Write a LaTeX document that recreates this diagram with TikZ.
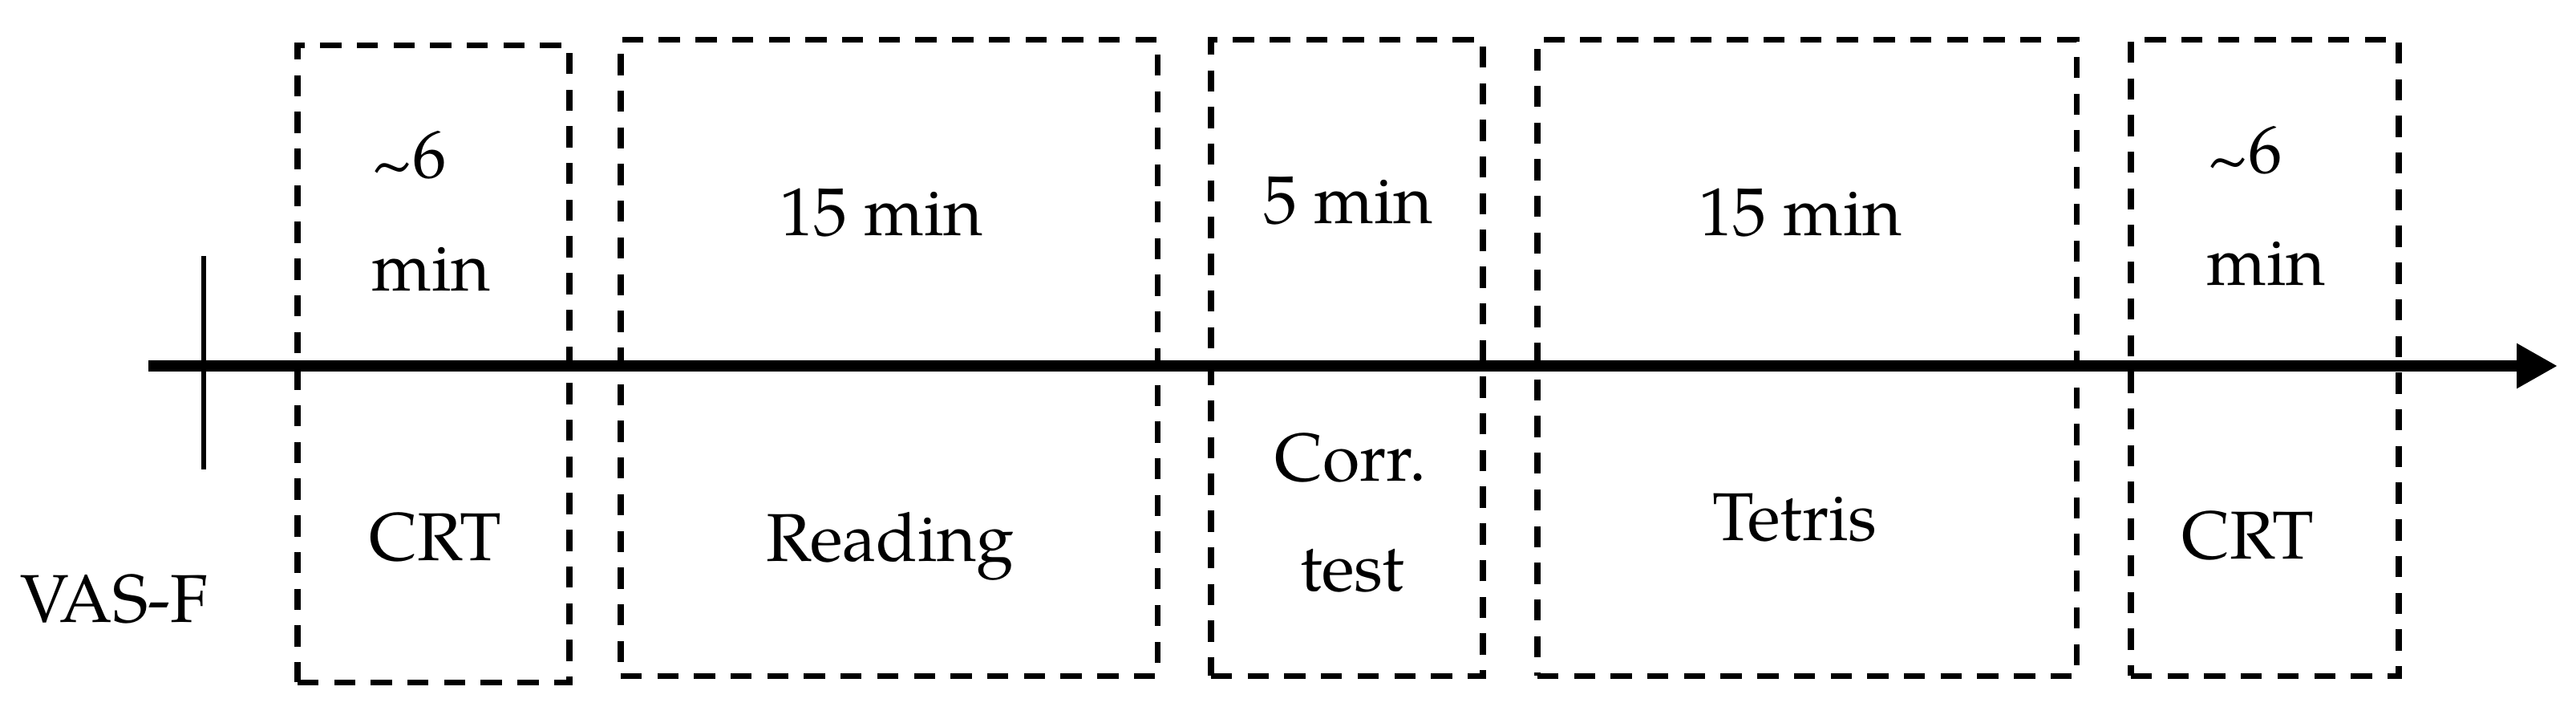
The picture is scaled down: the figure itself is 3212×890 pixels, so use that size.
\documentclass[tikz,border=0pt]{standalone}
\usepackage{fontspec}
\setmainfont{TeX Gyre Pagella}
\usetikzlibrary{arrows.meta}
\newcommand{\lowtilde}{\raisebox{-0.13em}{\textasciitilde}}
\tikzset{
  phase/.style={draw=black, line width=2.1pt, dash pattern=on 7.5pt off 5.5pt, inner sep=0pt},
  lbl/.style={anchor=base, inner sep=0pt, font=\fontsize{24}{28}\selectfont},
  timeline/.style={line width=4.2pt, -{Triangle[length=14.5pt,width=15pt]}},
  tickmark/.style={line width=1.6pt}
}
\begin{document}
\begin{tikzpicture}[x=0.01cm, y=-0.01cm]
\useasboundingbox (0,0) rectangle (3212,890);
% boxes
\node[phase, minimum width=3.39cm, minimum height=7.93cm] (box1) at (540.5,453.5) {};
\node[phase, minimum width=6.69cm, minimum height=7.92cm] (box2) at (1108.5,446) {};
\node[phase, minimum width=3.39cm, minimum height=7.92cm] (box3) at (1679.5,446) {};
\node[phase, minimum width=6.72cm, minimum height=7.92cm] (box4) at (2253,446) {};
\node[phase, minimum width=3.34cm, minimum height=7.92cm] (box5) at (2824,446) {};
% timeline
\coordinate (tstart) at (185,456);
\coordinate (tend) at (3189,456);
\draw[timeline] (tstart) -- (tend);
\coordinate (tick1) at (254,319);
\coordinate (tick2) at (254,585);
\draw[tickmark] (tick1) -- (tick2);
% labels
\node[lbl, anchor=base west] (d1a) at (463,221) {\lowtilde6};
\node[lbl, anchor=base west] (d1b) at (463,362) {min};
\node[lbl] (t1) at (543,698) {CRT};
\node[lbl] (d2) at (1099,293) {15 min};
\node[lbl] (t2) at (1110,699) {Reading};
\node[lbl] (d3) at (1681,278) {5 min};
\node[lbl] (t3a) at (1684,599) {Corr.};
\node[lbl] (t3b) at (1686,736) {test};
\node[lbl] (d4) at (2245,293) {15 min};
\node[lbl] (t4) at (2238,673) {Tetris};
\node[lbl, anchor=base west] (d5a) at (2752,215) {\lowtilde6};
\node[lbl, anchor=base west] (d5b) at (2751,355) {min};
\node[lbl] (t5) at (2803,696) {CRT};
\node[lbl, anchor=base west] (vas) at (25,775) {VAS-F};
\end{tikzpicture}
\end{document}
